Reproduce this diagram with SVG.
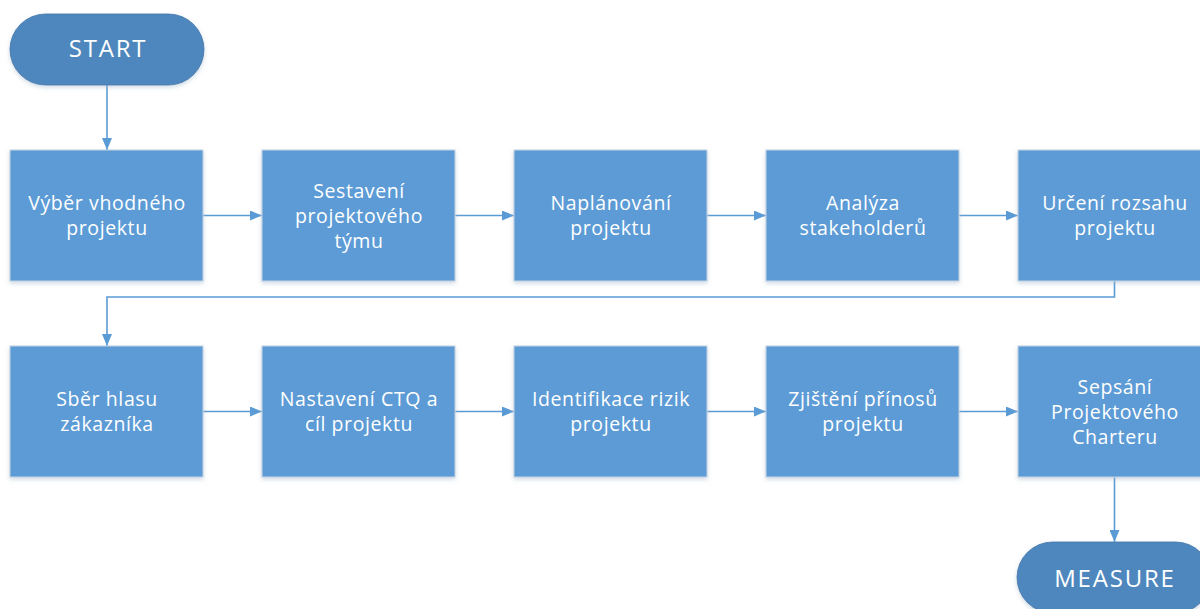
<svg xmlns="http://www.w3.org/2000/svg" width="1200" height="609" viewBox="0 0 1200 609">
<defs>
<marker id="arr" markerWidth="12" markerHeight="10" refX="12" refY="5" orient="auto" markerUnits="userSpaceOnUse">
<path d="M0,0 L12,5 L0,10 Z" fill="#5b9bd5"/>
</marker>
<filter id="sh" x="-10%" y="-10%" width="120%" height="125%">
<feDropShadow dx="0" dy="2" stdDeviation="2" flood-color="#9fb6cc" flood-opacity="0.5"/>
</filter>
<style>
.box{fill:#5b9bd5;stroke:#c5d3e2;stroke-width:1;filter:url(#sh)}
.pill{fill:#4e87bd;stroke:#3f74a8;stroke-width:0.8;filter:url(#sh)}
.t{font-family:"Open Sans","Liberation Sans",sans-serif;font-size:19.5px;letter-spacing:0.6px;fill:#ffffff;text-anchor:middle}
.tp{font-family:"Open Sans","Liberation Sans",sans-serif;font-size:24px;letter-spacing:1.8px;fill:#ffffff;text-anchor:middle}
.c{fill:none;stroke:#5b9bd5;stroke-width:1.6;marker-end:url(#arr)}
</style>
</defs>
<rect width="1200" height="609" fill="#ffffff"/>
<g id="connectors">
<path class="c" d="M107,85 L107,150"/>
<path class="c" d="M203,215.5 L262,215.5"/>
<path class="c" d="M455,215.5 L514,215.5"/>
<path class="c" d="M707,215.5 L766,215.5"/>
<path class="c" d="M959,215.5 L1018,215.5"/>
<path class="c" d="M1114.5,281 L1114.5,297 L107,297 L107,346"/>
<path class="c" d="M203,411.5 L262,411.5"/>
<path class="c" d="M455,411.5 L514,411.5"/>
<path class="c" d="M707,411.5 L766,411.5"/>
<path class="c" d="M959,411.5 L1018,411.5"/>
<path class="c" d="M1114.5,477 L1114.5,542"/>
</g>
<g id="start">
<rect class="pill" x="10" y="14" width="194" height="71" rx="35.5"/>
<text class="tp" x="108" y="57">START</text>
</g>
<g id="n1">
<rect class="box" x="10" y="150" width="193" height="131"/>
<text class="t" x="107" y="210">Výběr vhodného</text>
<text class="t" x="107" y="235">projektu</text>
</g>
<g id="n2">
<rect class="box" x="262" y="150" width="193" height="131"/>
<text class="t" x="359" y="198">Sestavení</text>
<text class="t" x="359" y="223">projektového</text>
<text class="t" x="359" y="248">týmu</text>
</g>
<g id="n3">
<rect class="box" x="514" y="150" width="193" height="131"/>
<text class="t" x="611" y="210">Naplánování</text>
<text class="t" x="611" y="235">projektu</text>
</g>
<g id="n4">
<rect class="box" x="766" y="150" width="193" height="131"/>
<text class="t" x="863" y="210">Analýza</text>
<text class="t" x="863" y="235">stakeholderů</text>
</g>
<g id="n5">
<rect class="box" x="1018" y="150" width="193" height="131"/>
<text class="t" x="1115" y="210">Určení rozsahu</text>
<text class="t" x="1115" y="235">projektu</text>
</g>
<g id="n6">
<rect class="box" x="10" y="346" width="193" height="131"/>
<text class="t" x="107" y="406">Sběr hlasu</text>
<text class="t" x="107" y="431">zákazníka</text>
</g>
<g id="n7">
<rect class="box" x="262" y="346" width="193" height="131"/>
<text class="t" x="359" y="406">Nastavení CTQ a</text>
<text class="t" x="359" y="431">cíl projektu</text>
</g>
<g id="n8">
<rect class="box" x="514" y="346" width="193" height="131"/>
<text class="t" x="611" y="406">Identifikace rizik</text>
<text class="t" x="611" y="431">projektu</text>
</g>
<g id="n9">
<rect class="box" x="766" y="346" width="193" height="131"/>
<text class="t" x="863" y="406">Zjištění přínosů</text>
<text class="t" x="863" y="431">projektu</text>
</g>
<g id="n10">
<rect class="box" x="1018" y="346" width="193" height="131"/>
<text class="t" x="1115" y="394">Sepsání</text>
<text class="t" x="1115" y="419">Projektového</text>
<text class="t" x="1115" y="444">Charteru</text>
</g>
<g id="measure">
<rect class="pill" x="1017" y="542" width="194" height="71" rx="35.5"/>
<text class="tp" x="1115" y="587">MEASURE</text>
</g>
</svg>
